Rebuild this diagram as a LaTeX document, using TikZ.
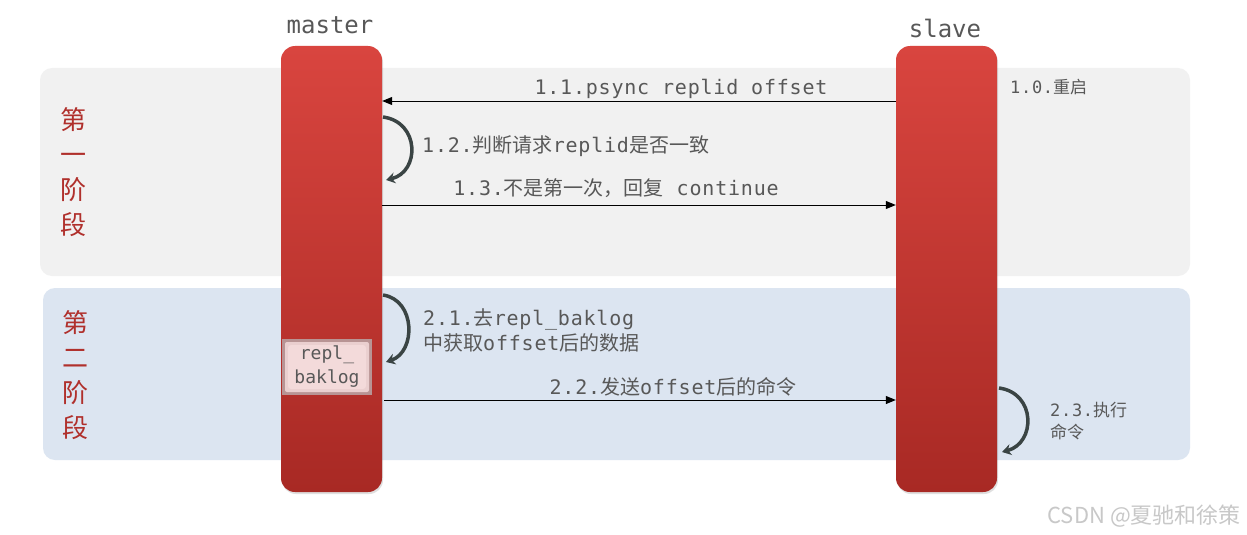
\documentclass[tikz,border=0pt]{standalone}
\usepackage{fontspec}
\newfontfamily\monof{DejaVu Sans Mono}
\newfontfamily\monos[LetterSpace=4]{DejaVu Sans Mono}
\newfontfamily\cjk{Noto Sans CJK SC}
\newcommand\zh[1]{{\cjk #1}}
\usetikzlibrary{shadows,arrows.meta}
\definecolor{panelA}{HTML}{F1F1F1}
\definecolor{panelB}{HTML}{DCE5F1}
\definecolor{barTop}{HTML}{D9453F}
\definecolor{barBot}{HTML}{A82924}
\definecolor{txt}{HTML}{585858}
\definecolor{stagecol}{HTML}{B0302C}
\definecolor{loopcol}{HTML}{3A4444}
\definecolor{logfill}{HTML}{F3DADA}
\definecolor{logedge}{HTML}{B89494}
\definecolor{wm}{HTML}{C8C8C8}
\begin{document}
\begin{tikzpicture}[x=1pt,y=-1pt,
  panel/.style={rounded corners=12pt, draw=none},
  bar/.style={rounded corners=14pt, minimum width=101pt, minimum height=446pt,
    top color=barTop, bottom color=barBot, draw=none, inner sep=0pt,
    drop shadow={shadow xshift=1pt, shadow yshift=-2pt, opacity=0.25}},
  actor/.style={text=txt, font=\monof\fontsize{24}{28}\selectfont},
  stage/.style={text=stagecol, align=center, font=\cjk\fontsize{26}{35}\selectfont},
  lbl/.style={text=txt, font=\monos\fontsize{20}{25}\selectfont, inner sep=0pt},
  small/.style={text=txt, font=\monos\fontsize{17}{22}\selectfont, inner sep=0pt, align=left},
  msg/.style={draw=black, line width=1pt, -{Triangle[length=10pt,width=8pt]}},
  selfloop/.style={draw=loopcol, line width=3.5pt, -{Stealth[length=9pt,width=11pt]}},
]
\useasboundingbox (0,0) rectangle (1247,535);
\fill[white] (0,0) rectangle (1247,535);

% panels
\fill[panel, panelA] (40,68) rectangle (1190,276);
\fill[panel, panelB] (43,288) rectangle (1190,460);

% stage labels
\node[stage] (st1) at (73,172) {第\\一\\阶\\段};
\node[stage] (st2) at (75,375) {第\\二\\阶\\段};

% lifelines
\node[bar] (master) at (331.5,269) {};
\node[bar] (slave) at (946.5,269) {};
\node[actor] (mlab) at (330,25) {master};
\node[actor] (slab) at (945,28) {slave};

% repl_baklog box (soft inner shadow)
\node[fill=logedge, minimum width=90pt, minimum height=56pt, inner sep=0pt] (logbg) at (327,367) {};
\node[fill=logfill!85!logedge, rounded corners=2pt, minimum width=84pt, minimum height=50pt, inner sep=0pt] (logmid) at (logbg.center) {};
\node[fill=logfill, rounded corners=3pt, minimum width=78pt, minimum height=44pt,
      align=center, text=txt, font=\monof\fontsize{18}{24}\selectfont, inner sep=0pt] (log) at (logbg.center) {repl\_\\baklog};

% anchor coordinates on lifelines
\coordinate (m11) at (master.east |- 0,101);
\coordinate (s11) at (slave.west |- 0,101);
\coordinate (m13) at (master.east |- 0,205);
\coordinate (s13) at (slave.west |- 0,205);
\coordinate (m22) at (384,400);
\coordinate (s22) at (slave.west |- 0,400);

% messages
\draw[msg] (s11) -- (m11);
\node[lbl] (l11) at (681,89) {1.1.psync replid offset};
\draw[msg] (m13) -- (s13);
\node[lbl] (l13) at (616,188) {1.3.\zh{不是第一次，回复} continue};
\draw[msg] (m22) -- (s22);
\node[lbl] (l22) at (673,387) {2.2.\zh{发送}offset\zh{后的命令}};

% self loops
\coordinate (a1) at (383,117);
\coordinate (b1) at (386,180);
\draw[selfloop] (a1) .. controls (420,122) and (420,172) .. (b1);
\node[lbl, anchor=west] (l12) at (422,146) {1.2.\zh{判断请求}replid\zh{是否一致}};

\coordinate (a2) at (383,295);
\coordinate (b2) at (386,362);
\draw[selfloop] (a2) .. controls (416,300) and (416,352) .. (b2);
\node[lbl, anchor=west, align=left] (l21) at (423,330) {2.1.\zh{去}repl\_baklog\\\zh{中获取}offset\zh{后的数据}};

\coordinate (a3) at (999,388);
\coordinate (b3) at (1002,452);
\draw[selfloop] (a3) .. controls (1036,393) and (1036,443) .. (b3);
\node[small, anchor=west] (l23) at (1050,421) {2.3.\zh{执行}\\\zh{命令}};

\node[small, anchor=west] (l10) at (1010,87) {1.0.\zh{重启}};

% watermark
\node[text=wm, font=\cjk\fontsize{22}{26}\selectfont, anchor=east, inner sep=0pt] (wmk) at (1241,516) {CSDN @夏驰和徐策};
\end{tikzpicture}
\end{document}
